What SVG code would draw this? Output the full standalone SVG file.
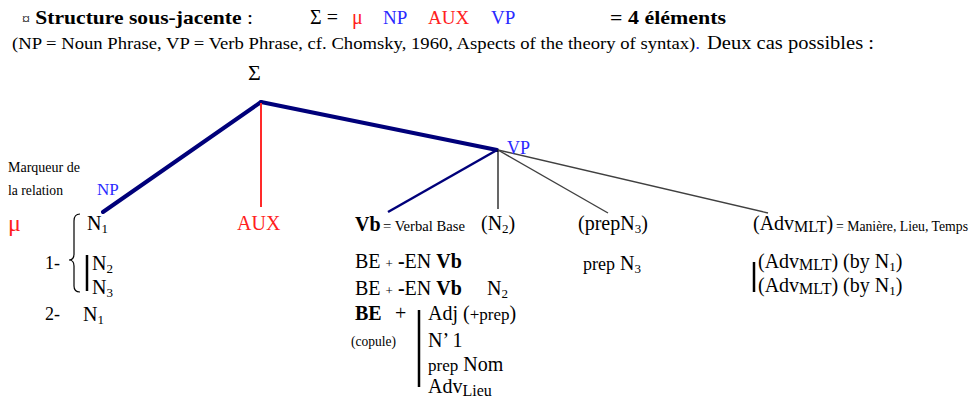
<svg xmlns="http://www.w3.org/2000/svg" width="974" height="401" viewBox="0 0 974 401">
<style>
text{font-family:"Liberation Serif","Times New Roman",serif;fill:#000}
.m{font-size:20px}
.s{font-size:14px}
.b{font-weight:bold}
.red{fill:#ff2020}
.blue{fill:#2a2aff}
.sub{font-size:13px}
.sub2{font-size:16px}
.thick{stroke:#00007a;stroke-width:4;fill:none;stroke-linecap:round}
.mid{stroke:#00007a;stroke-width:2.5;fill:none}
.thin{stroke:#000;stroke-width:1.2;fill:none}
.gray{stroke:#404040;stroke-width:1.4;fill:none}
.bar{stroke:#000;stroke-width:2.5;fill:none}
</style>
<rect width="974" height="401" fill="#fff"/>
<g id="header">
<text x="22" y="24" font-size="19" class="b" textLength="231" lengthAdjust="spacingAndGlyphs"><tspan font-weight="normal" font-size="14">¤</tspan> Structure sous-jacente <tspan font-weight="normal">:</tspan></text>
<text x="310" y="24" font-size="20">Σ =</text>
<text x="352" y="24" font-size="20" class="red">μ</text>
<text x="383" y="24" font-size="19" class="blue">NP</text>
<text x="428" y="24" font-size="19" class="red">AUX</text>
<text x="491" y="24" font-size="19" class="blue">VP</text>
<text x="610" y="24" font-size="19.5" class="b" textLength="116" lengthAdjust="spacingAndGlyphs">=  4 éléments</text>
<text x="12" y="49" font-size="17" textLength="688" lengthAdjust="spacingAndGlyphs">(NP = Noun Phrase, VP = Verb Phrase,  cf. Chomsky, 1960, Aspects of the theory of syntax)<tspan class="blue">.</tspan></text>
<text x="707" y="49" font-size="19.5" textLength="167" lengthAdjust="spacingAndGlyphs" fill="#222">Deux cas possibles :</text>
</g>
<g id="connectors">
<line class="thick" x1="261" y1="102" x2="103" y2="212"/>
<line class="thick" x1="261" y1="102" x2="497" y2="150"/>
<line x1="261" y1="103" x2="261" y2="207" stroke="#ff2a2a" stroke-width="2"/>
<line class="mid" x1="497" y1="150" x2="388" y2="212"/>
<line class="thin" x1="498" y1="150" x2="498" y2="209"/>
<line class="gray" x1="498" y1="150" x2="608" y2="213"/>
<line class="gray" x1="498" y1="150" x2="768" y2="213"/>
</g>
<g id="root"><text x="248" y="80" font-size="22">Σ</text></g>
<g id="marqueur">
<text x="8" y="172" class="s" textLength="72" lengthAdjust="spacingAndGlyphs">Marqueur de</text>
<text x="8" y="195" class="s" textLength="55" lengthAdjust="spacingAndGlyphs">la relation</text>
<text x="8" y="231" font-size="24" class="red">μ</text>
</g>
<g id="NP">
<text x="97" y="195" font-size="17" class="blue">NP</text>
<text x="87" y="230" class="m">N<tspan class="sub" dy="3">1</tspan></text>
<path class="thin" stroke="#333" d="M80,214 Q74,214 74,221 L74,254 Q74,260 69,260 Q74,260 74,266 L74,286 Q74,292 80,292"/>
<line class="bar" x1="87" y1="255" x2="87" y2="291"/>
<text x="45" y="269" font-size="18">1-</text>
<text x="92" y="270" class="m">N<tspan class="sub" dy="3">2</tspan></text>
<text x="92" y="294" class="m">N<tspan class="sub" dy="3">3</tspan></text>
<text x="45" y="320" font-size="18">2-</text>
<text x="83" y="321" class="m">N<tspan class="sub" dy="3">1</tspan></text>
</g>
<g id="AUX"><text x="237" y="230" class="m red">AUX</text></g>
<g id="VP"><text x="507" y="154" font-size="18" class="blue">VP</text></g>
<g id="Vb">
<text x="355" y="231" class="m b">Vb</text>
<text x="383" y="231" class="s" textLength="82" lengthAdjust="spacingAndGlyphs">= Verbal Base</text>
<text x="355" y="268" class="m">BE <tspan font-size="13">+</tspan> <tspan class="b">-</tspan>EN <tspan class="b">Vb</tspan></text>
<text x="355" y="295" class="m">BE <tspan font-size="13">+</tspan> <tspan class="b">-</tspan>EN <tspan class="b">Vb</tspan></text>
<text x="487" y="295" class="m">N<tspan class="sub" dy="3">2</tspan></text>
<text x="355" y="320" class="m"><tspan class="b">BE</tspan></text>
<text x="395" y="320" class="m">+</text>
<text x="351" y="346" class="s" textLength="45" lengthAdjust="spacingAndGlyphs">(copule)</text>
<line class="bar" x1="419" y1="310" x2="419" y2="387"/>
<text x="428" y="320" class="m">Adj (<tspan font-size="17">+prep</tspan>)</text>
<text x="428" y="347" class="m">N’ 1</text>
<text x="428" y="371" class="m"><tspan font-size="17">prep</tspan> Nom</text>
<text x="428" y="393" class="m">Adv<tspan class="sub2" dy="3">Lieu</tspan></text>
</g>
<g id="N2"><text x="481" y="230" class="m">(N<tspan class="sub" dy="3">2</tspan><tspan dy="-3">)</tspan></text></g>
<g id="prepN3">
<text x="578" y="230" class="m">(prepN<tspan class="sub" dy="3">3</tspan><tspan dy="-3">)</tspan></text>
<text x="583" y="270" font-size="20"><tspan font-size="18">prep</tspan> N<tspan class="sub" dy="3">3</tspan></text>
</g>
<g id="Adv">
<text x="753" y="230" class="m">(Adv<tspan class="sub2" dy="2">MLT</tspan><tspan dy="-2">)</tspan></text>
<text x="836" y="231" class="s" textLength="132" lengthAdjust="spacingAndGlyphs">= Manière, Lieu, Temps</text>
<line class="bar" x1="754" y1="262" x2="754" y2="292"/>
<text x="758" y="268" class="m">(Adv<tspan class="sub2" dy="2">MLT</tspan><tspan dy="-2">) (by N</tspan><tspan class="sub" dy="3">1</tspan><tspan dy="-3">)</tspan></text>
<text x="758" y="292" class="m">(Adv<tspan class="sub2" dy="2">MLT</tspan><tspan dy="-2">) (by N</tspan><tspan class="sub" dy="3">1</tspan><tspan dy="-3">)</tspan></text>
</g>
</svg>
